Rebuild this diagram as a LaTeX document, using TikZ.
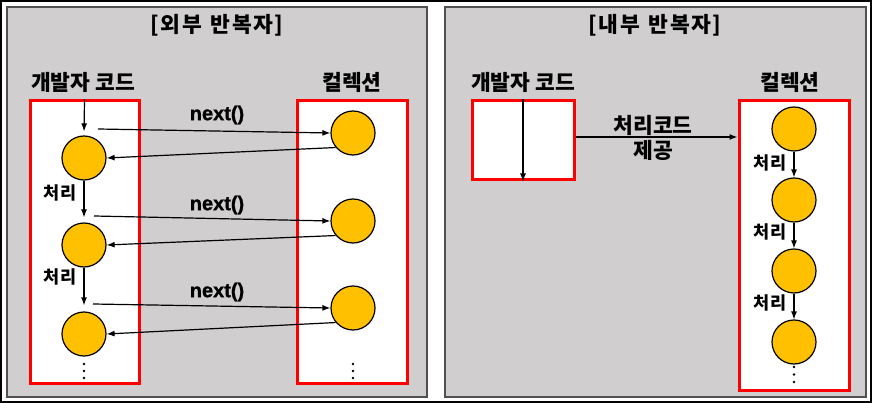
\documentclass[tikz,border=0pt]{standalone}
\usepackage{fontspec}
\setmainfont{Noto Sans CJK KR}
\newfontfamily\nextfont{Liberation Sans Bold}[FakeBold=1]
\usetikzlibrary{arrows.meta}
\definecolor{panelgray}{HTML}{D0CECF}
\definecolor{panelline}{HTML}{505050}
\definecolor{ballfill}{HTML}{FFC000}
\definecolor{boxred}{HTML}{FF0000}
\begin{document}
\begin{tikzpicture}[x=1pt,y=-1pt,
  panel/.style={fill=panelgray,draw=panelline,line width=1.5pt},
  redbox/.style={draw=boxred,fill=white,line width=3pt},
  ball/.style={circle,draw=black,line width=1.2pt,fill=ballfill,minimum size=44pt,inner sep=0pt},
  arr/.style={-{Latex[length=8pt,width=6pt]},line width=1.2pt,black},
  ttl/.style={font=\fontsize{21.5}{24}\selectfont\bfseries,inner sep=0pt},
  lbl/.style={font=\fontsize{21.5}{24}\selectfont\bfseries,inner sep=0pt},
  nxt/.style={font=\fontsize{20}{24}\selectfont\nextfont,inner sep=0pt},
  small/.style={font=\fontsize{17.5}{20}\selectfont\bfseries,inner sep=0pt},
  dot/.style={circle,fill=black,inner sep=0pt,minimum size=2.6pt}]
\useasboundingbox (0,0) rectangle (872,403);
\draw[line width=1.5pt] (1,1) rectangle (871,402);
% panels
\draw[panel] (7,7) rectangle (427,397);
\draw[panel] (445,7) rectangle (866,397);
\node[ttl] (t1) at (217,25) {[\kern1.5pt 외\kern1.5pt 부\kern4pt\ 반\kern1.5pt 복\kern1.5pt 자\kern1.5pt ]};
\node[ttl] (t2) at (655,25) {[\kern1.5pt 내\kern1.5pt 부\kern4pt\ 반\kern1.5pt 복\kern1.5pt 자\kern1.5pt ]};
% ---- left panel
\node[lbl] (dev1) at (83,82) {개발자 코드};
\node[lbl] (col1) at (352,82) {컬렉션};
\node[redbox,minimum width=109pt,minimum height=282pt,inner sep=0pt] (lbox) at (84.5,242) {};
\node[redbox,minimum width=110pt,minimum height=282pt,inner sep=0pt] (rbox) at (352,242) {};
\node[ball] (l1) at (84,158) {};
\node[ball] (l2) at (84,245) {};
\node[ball] (l3) at (84,334) {};
\node[ball] (r1) at (353,133) {};
\node[ball] (r2) at (353,221) {};
\node[ball] (r3) at (353,308) {};
\coordinate (s1) at (98,129);
\coordinate (s2) at (94,216);
\coordinate (s3) at (93,304);
\draw[arr,shorten >=4pt] (lbox.north) -- (l1.north);
\draw[arr,shorten >=5pt] (l1.south) -- (l2.north);
\draw[arr,shorten >=6pt] (l2.south) -- (l3.north);
\draw[arr] (s1) -- (r1.west);
\draw[arr] (s2) -- (r2.west);
\draw[arr] (s3) -- (r3.west);
\draw[arr] (r1.220) -- (l1.east);
\draw[arr] (r2.220) -- (l2.east);
\draw[arr] (r3.220) -- (l3.east);
\node[nxt] (n1) at (217,115) {next()};
\node[nxt] (n2) at (217,205) {next()};
\node[nxt] (n3) at (217,292) {next()};
\node[small] (p1) at (60,193) {처리};
\node[small] (p2) at (60,277) {처리};
\foreach \y in {364,371,378} {\node[dot] at (84,\y) {}; \node[dot] at (353,\y) {};}
% ---- right panel
\node[lbl] (dev2) at (523,82) {개발자 코드};
\node[lbl] (col2) at (790,82) {컬렉션};
\node[redbox,minimum width=102pt,minimum height=79pt,inner sep=0pt] (dbox) at (523,140.5) {};
\node[redbox,minimum width=110pt,minimum height=289pt,inner sep=0pt] (cbox) at (794,245.5) {};
\draw[arr] (dbox.north) -- (dbox.south);
\draw[arr] ([yshift=3.5pt]dbox.east) -- ([yshift=3.5pt]dbox.east -| cbox.west);
\node[lbl] (k1) at (653,125) {처리코드};
\node[lbl] (k2) at (653,150) {제공};
\node[ball] (c1) at (794,129) {};
\node[ball] (c2) at (794,200) {};
\node[ball] (c3) at (794,271) {};
\node[ball] (c4) at (794,342) {};
\draw[arr] (c1.south) -- (c2.north);
\draw[arr] (c2.south) -- (c3.north);
\draw[arr] (c3.south) -- (c4.north);
\node[small] (q1) at (770,163) {처리};
\node[small] (q2) at (770,232) {처리};
\node[small] (q3) at (770,303) {처리};
\foreach \y in {367,374.5,382} {\node[dot] at (794,\y) {};}
\end{tikzpicture}
\end{document}
